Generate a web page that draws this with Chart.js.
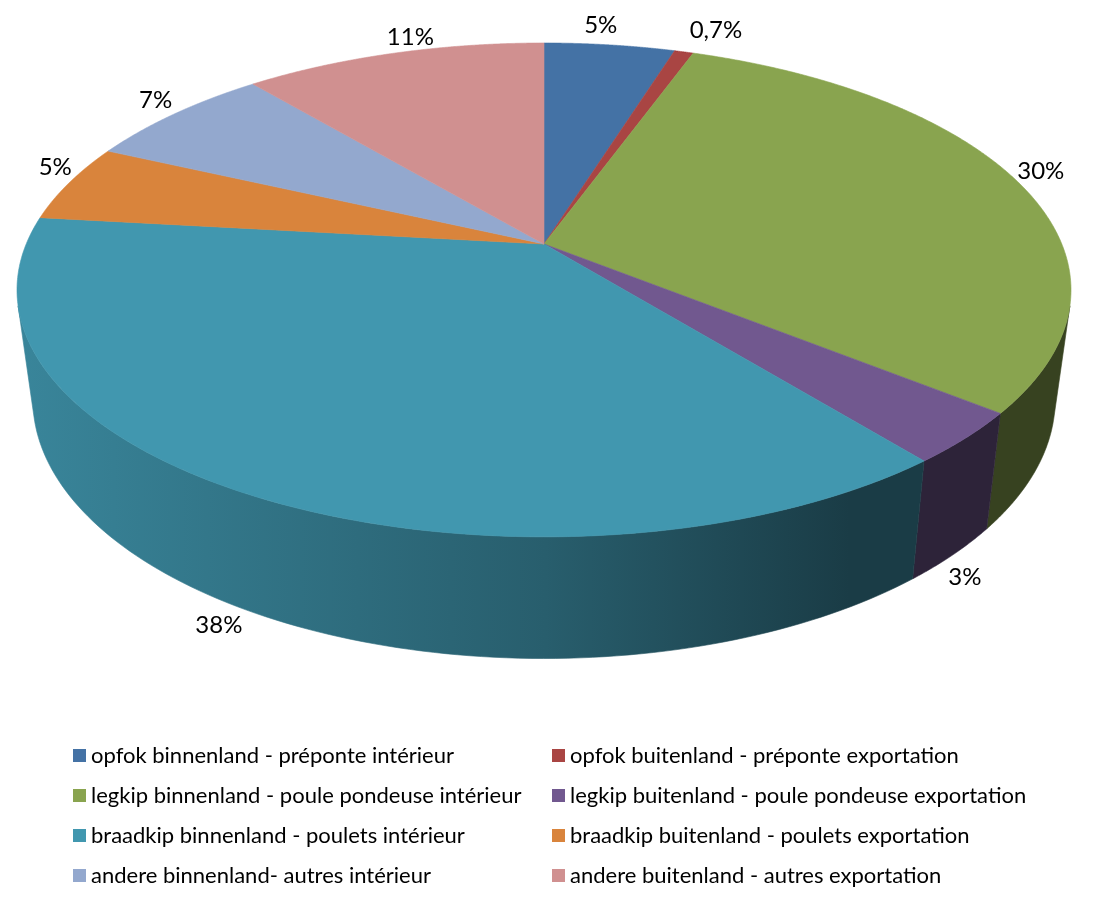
<!DOCTYPE html>
<html>
<head>
<meta charset="utf-8">
<title>Pie</title>
<script src="https://cdn.jsdelivr.net/npm/chart.js@4"></script>
<style>
  html, body { margin: 0; padding: 0; background: #fff; }
  #wrap { position: relative; width: 1094px; height: 898px; overflow: hidden; }
  #legend { position: absolute; left: 73px; top: 735px; width: 1000px; display: grid; grid-template-columns: 479px 500px; grid-auto-rows: 40px; font: 22px Lato, sans-serif; color: #000; }
  #legend div { display: flex; align-items: center; white-space: nowrap; }
  #legend i { width: 13px; height: 13px; margin-right: 5px; flex: none; }
  #legend span { position: relative; top: -1px; }
</style>
</head>
<body>
<div id="wrap">
  <canvas id="pie" width="1094" height="898"></canvas>
  <div id="legend"></div>
</div>
<script>
const categories = [
  'opfok binnenland - préponte intérieur',
  'opfok buitenland - préponte exportation',
  'legkip binnenland - poule pondeuse intérieur',
  'legkip buitenland - poule pondeuse exportation',
  'braadkip binnenland - poulets intérieur',
  'braadkip buitenland - poulets exportation',
  'andere binnenland- autres intérieur',
  'andere buitenland - autres exportation'
];
const shares = [4.8, 0.7, 30.3, 3.4, 37.6, 5.1, 7.0, 11.1];
const shareLabels = ['5%', '0,7%', '30%', '3%', '38%', '5%', '7%', '11%'];
const colors = ['#4472a5', '#a94543', '#89a44f', '#71588f', '#4197af', '#d9843c', '#93a8ce', '#d09090'];

// nudge of each percent label away from the slice edge
const labelOffsets = [[-9, -20], [32, -22], [22, -11], [12, 22], [-36, 12], [-14, -15], [-19, -14], [17, -16]];

// tilted view of the pie: top face and the bottom face of the cylinder
const view = { x: 544, y: 244, a: 517.8, b: 238.4, k: 0.186 };
const floor = { x: 544, y: 351, sx: 0.97, sy: 1.05 };
const wallStart = 0.25;

function tilt(px, py, radius) {
  const u = px / radius;
  const v = -py / radius;
  const w = 1 + view.k * v;
  return { x: view.a * u / w, y: -view.b * v / w };
}

function topPoint(el, angle) {
  const p = tilt(Math.cos(angle) * el.outerRadius, Math.sin(angle) * el.outerRadius, el.outerRadius);
  return { x: view.x + p.x, y: view.y + p.y };
}

function bottomPoint(el, angle) {
  const p = tilt(Math.cos(angle) * el.outerRadius, Math.sin(angle) * el.outerRadius, el.outerRadius);
  return { x: floor.x + p.x * floor.sx, y: floor.y + p.y * floor.sy };
}

// lets ArcElement.draw trace its path through the tilt
function tiltedContext(ctx, el) {
  const map = (x, y) => {
    const p = tilt(x - el.x, y - el.y, el.outerRadius);
    return [view.x + p.x, view.y + p.y];
  };
  return new Proxy(ctx, {
    get(target, prop) {
      if (prop === 'moveTo' || prop === 'lineTo') {
        return (x, y) => target[prop](...map(x, y));
      }
      if (prop === 'arc') {
        return (cx, cy, r, start, end, ccw) => {
          const n = 160;
          for (let i = 0; i <= n; i++) {
            const a = start + (end - start) * i / n;
            target.lineTo(...map(cx + Math.cos(a) * r, cy + Math.sin(a) * r));
          }
        };
      }
      const value = target[prop];
      return typeof value === 'function' ? value.bind(target) : value;
    },
    set(target, prop, value) {
      target[prop] = value;
      return true;
    }
  });
}

function shade(hex, f) {
  const n = parseInt(hex.slice(1), 16);
  return `rgb(${Math.round((n >> 16) * f)}, ${Math.round(((n >> 8) & 255) * f)}, ${Math.round((n & 255) * f)})`;
}

function drawWall(ctx, el, color) {
  const start = Math.max(el.startAngle, wallStart);
  const end = Math.min(el.endAngle, Math.PI - wallStart);
  if (end <= start) return;
  const grad = ctx.createLinearGradient(20, 0, 1070, 0);
  grad.addColorStop(0, shade(color, 0.88));
  grad.addColorStop(0.5, shade(color, 0.62));
  grad.addColorStop(0.79, shade(color, 0.4));
  grad.addColorStop(1, shade(color, 0.4));
  ctx.beginPath();
  const n = 100;
  for (let i = 0; i <= n; i++) {
    const p = topPoint(el, start + (end - start) * i / n);
    ctx.lineTo(p.x, p.y);
  }
  for (let i = n; i >= 0; i--) {
    const p = bottomPoint(el, start + (end - start) * i / n);
    ctx.lineTo(p.x, p.y);
  }
  ctx.closePath();
  ctx.fillStyle = grad;
  ctx.strokeStyle = grad;
  ctx.lineWidth = 0.6;
  ctx.fill();
  ctx.stroke();
}

const tiltedPie = {
  id: 'tiltedPie',
  beforeDatasetsDraw(chart) {
    const ctx = chart.ctx;
    const arcs = chart.getDatasetMeta(0).data;
    arcs.forEach((el, i) => drawWall(ctx, el, colors[i]));
    arcs.forEach(el => el.draw(tiltedContext(ctx, el)));
    return false;
  },
  afterDraw(chart) {
    const ctx = chart.ctx;
    ctx.save();
    ctx.font = '24px Lato, sans-serif';
    ctx.fillStyle = '#000';
    ctx.textAlign = 'center';
    ctx.textBaseline = 'middle';
    chart.getDatasetMeta(0).data.forEach((el, i) => {
      const mid = (el.startAngle + el.endAngle) / 2;
      const front = Math.sin(mid) > 0.3;
      const p = front ? bottomPoint(el, mid) : topPoint(el, mid);
      ctx.fillText(shareLabels[i], p.x + labelOffsets[i][0], p.y + labelOffsets[i][1]);
    });
    ctx.restore();
  }
};

const chart = new Chart(document.getElementById('pie'), {
  type: 'pie',
  data: {
    labels: categories,
    datasets: [{
      data: shares,
      backgroundColor: colors,
      borderColor: colors,
      borderWidth: 0.6
    }]
  },
  options: {
    responsive: false,
    animation: false,
    plugins: {
      legend: { display: false },
      tooltip: { enabled: false }
    }
  },
  plugins: [tiltedPie]
});

const legend = document.getElementById('legend');
chart.data.labels.forEach((label, i) => {
  legend.innerHTML += `<div><i style="background:${colors[i]}"></i><span>${label}</span></div>`;
});
</script>
</body>
</html>
